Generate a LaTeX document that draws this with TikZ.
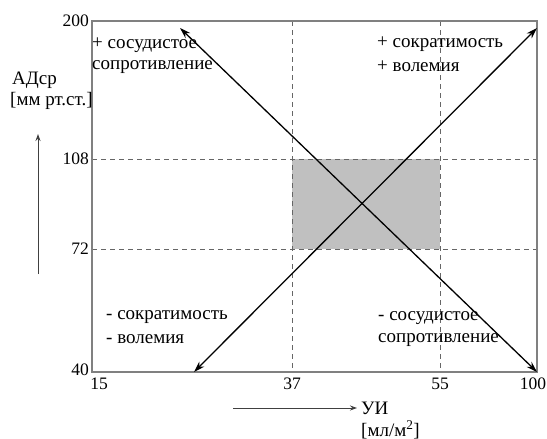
\documentclass[tikz,border=0pt]{standalone}
\usepackage{fontspec}
\setmainfont{Liberation Serif}
\usetikzlibrary{arrows.meta}
\definecolor{boxgray}{HTML}{808080}
\definecolor{fillgray}{HTML}{C0C0C0}
\tikzset{
  lbl/.style={font=\fontsize{19}{22}\selectfont, inner sep=0pt, text=black},
  tick/.style={font=\fontsize{17.5}{20}\selectfont, inner sep=0pt},
  grid/.style={draw=boxgray!80!black, dash pattern=on 5pt off 4pt, line width=0.8pt},
  diag/.style={line width=1.3pt, {Stealth[length=11pt,width=7pt]}-{Stealth[length=11pt,width=7pt]}},
  axarrow/.style={draw=black!75, line width=1pt, -{Stealth[length=7pt,width=5pt]}}
}
\begin{document}
\begin{tikzpicture}[x=1pt,y=-1pt]
\useasboundingbox (0,0) rectangle (547,439);
% gray region
\fill[fillgray] (292,159) rectangle (440,249);
% grid lines
\coordinate (v1t) at (292,21); \coordinate (v1b) at (292,372);
\coordinate (v2t) at (440,21); \coordinate (v2b) at (440,372);
\coordinate (h1l) at (92,159); \coordinate (h1r) at (537,159);
\coordinate (h2l) at (92,249); \coordinate (h2r) at (537,249);
\draw[grid] (v1t) -- (v1b);
\draw[grid] (v2t) -- (v2b);
\draw[grid] (h1l) -- (h1r);
\draw[grid] (h2l) -- (h2r);
% frame
\draw[boxgray, line width=1.6pt] (92,21) rectangle (537,372);
% diagonals
\coordinate (d1a) at (180,28); \coordinate (d1b) at (537,372);
\coordinate (d2a) at (194,372); \coordinate (d2b) at (537,28);
\draw[diag] (d1a) -- (d1b);
\draw[diag] (d2a) -- (d2b);
% tick labels
\node[tick, anchor=east] (y200) at (89,21) {200};
\node[tick, anchor=east] (y108) at (89,159) {108};
\node[tick, anchor=east] (y72) at (89,249) {72};
\node[tick, anchor=east] (y40) at (89,370) {40};
\node[tick, anchor=north] (x15) at (99,378) {15};
\node[tick, anchor=north] (x37) at (292,378) {37};
\node[tick, anchor=north] (x55) at (440,378) {55};
\node[tick, anchor=north] (x100) at (533,378) {100};
% axis titles
\node[lbl, anchor=west] (ylab) at (12,80) {АДср};
\node[lbl, anchor=west] (yunit) at (10,101) {[мм рт.ст.]};
\coordinate (ya) at (38,274); \coordinate (yb) at (38,134);
\draw[axarrow] (ya) -- (yb);
\coordinate (xa) at (233,408); \coordinate (xb) at (357,408);
\draw[axarrow] (xa) -- (xb);
\node[lbl, anchor=west] (xlab) at (361,408) {УИ};
\node[lbl, anchor=west] (xunit) at (361,430) {[мл/м\textsuperscript{2}]};
% quadrant texts
\node[lbl, anchor=west] (q1a) at (92,45) {+ сосудистое};
\node[lbl, anchor=west] (q1b) at (92,67) {сопротивление};
\node[lbl, anchor=west] (q2a) at (377,44) {+ сократимость};
\node[lbl, anchor=west] (q2b) at (377,66) {+ волемия};
\node[lbl, anchor=west] (q3a) at (106,317) {- сократимость};
\node[lbl, anchor=west] (q3b) at (106,339) {- волемия};
\node[lbl, anchor=west] (q4a) at (378,318) {- сосудистое};
\node[lbl, anchor=west] (q4b) at (378,340) {сопротивление};
\end{tikzpicture}
\end{document}
